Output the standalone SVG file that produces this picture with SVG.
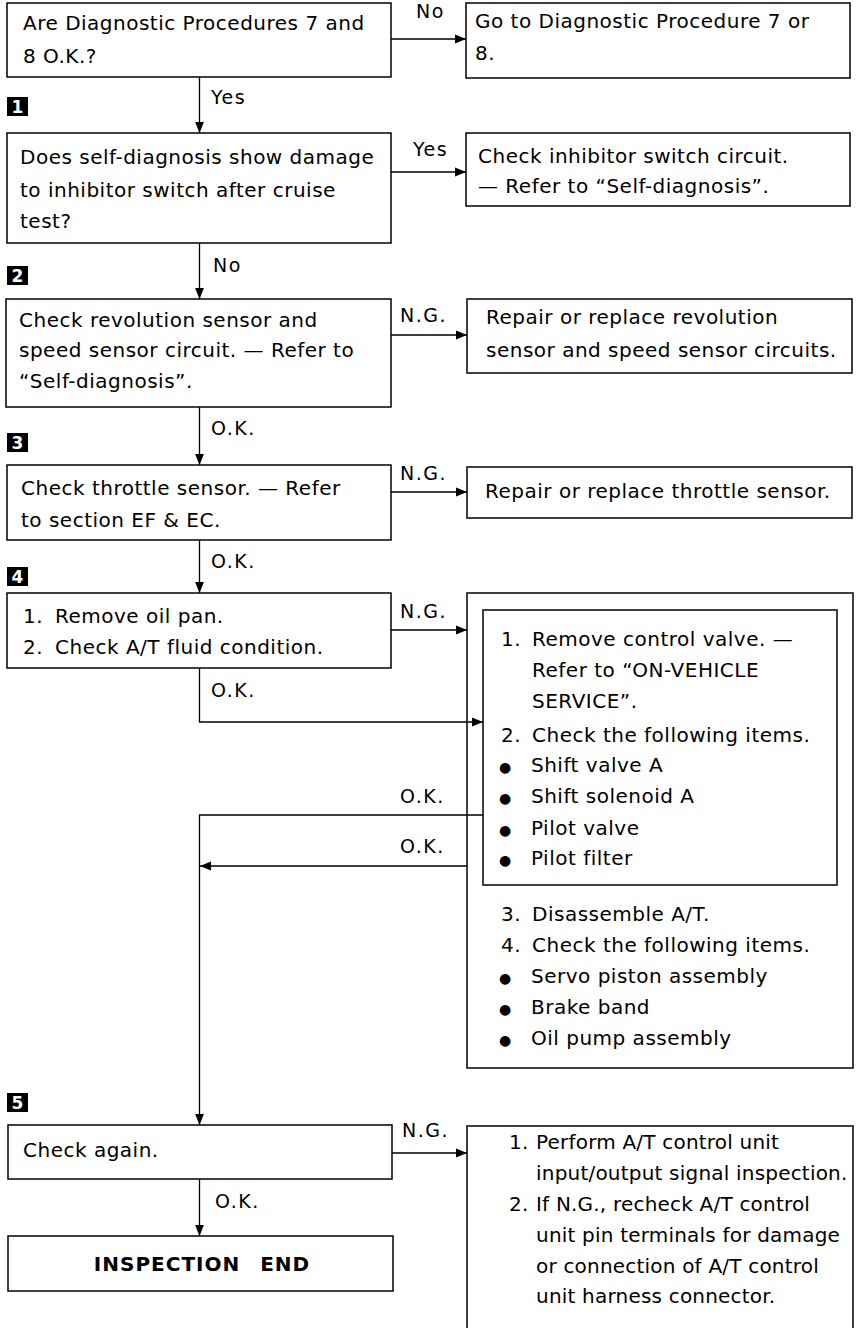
<svg xmlns="http://www.w3.org/2000/svg" width="858" height="1328" viewBox="0 0 858 1328">
<defs>
<marker id="ah" viewBox="0 0 10 10" refX="10" refY="5" markerWidth="11" markerHeight="11" markerUnits="userSpaceOnUse" orient="auto"><path d="M0,1 L10,5 L0,9 z" fill="#000"/></marker>
</defs>
<style>
.box{fill:#fff;stroke:#000;stroke-width:1.5}
.t{font-family:"DejaVu Sans",sans-serif;font-size:20px;letter-spacing:0.5px;fill:#000}
.tn{letter-spacing:0.2px}
.lbl{font-family:"DejaVu Sans",sans-serif;font-size:19px;letter-spacing:1.5px;fill:#000}
.conn{fill:none;stroke:#000;stroke-width:1.3}
.badge rect{fill:#000}
.badge text{font-family:"DejaVu Sans",sans-serif;font-weight:bold;font-size:17px;fill:#fff;text-anchor:middle}
.end{font-weight:bold;word-spacing:12px;text-anchor:middle;letter-spacing:1px}
.bul{font-size:14px}
</style>
<rect width="858" height="1328" fill="#fff"/>

<g id="badges">
<g class="badge" id="b1"><rect x="7" y="97" width="21" height="19"/><text x="17.5" y="112.5">1</text></g>
<g class="badge" id="b2"><rect x="7" y="266" width="21" height="19"/><text x="17.5" y="281.5">2</text></g>
<g class="badge" id="b3"><rect x="7" y="433" width="21" height="19"/><text x="17.5" y="448.5">3</text></g>
<g class="badge" id="b4"><rect x="7" y="567" width="21" height="19"/><text x="17.5" y="582.5">4</text></g>
<g class="badge" id="b5"><rect x="7" y="1093" width="21" height="19"/><text x="17.5" y="1108.5">5</text></g>
</g>

<g id="nodeA">
<rect class="box" x="7" y="3" width="384" height="74"/>
<text class="t" x="23" y="30">Are Diagnostic Procedures 7 and</text>
<text class="t" x="23" y="63">8 O.K.?</text>
</g>
<g id="nodeB">
<rect class="box" x="466" y="3" width="384" height="75"/>
<text class="t" x="475" y="28">Go to Diagnostic Procedure 7 or</text>
<text class="t" x="475" y="60">8.</text>
</g>
<g id="nodeC">
<rect class="box" x="7" y="133" width="384" height="110"/>
<text class="t" x="20" y="164">Does self-diagnosis show damage</text>
<text class="t" x="20" y="197">to inhibitor switch after cruise</text>
<text class="t" x="20" y="228">test?</text>
</g>
<g id="nodeD">
<rect class="box" x="466" y="133" width="384" height="73"/>
<text class="t" x="478" y="163">Check inhibitor switch circuit.</text>
<text class="t" x="478" y="193">— Refer to “Self-diagnosis”.</text>
</g>
<g id="nodeE">
<rect class="box" x="6" y="299" width="385" height="108"/>
<text class="t" x="19" y="327">Check revolution sensor and</text>
<text class="t" x="19" y="357">speed sensor circuit. — Refer to</text>
<text class="t" x="19" y="388">“Self-diagnosis”.</text>
</g>
<g id="nodeF">
<rect class="box" x="467" y="299" width="385" height="74"/>
<text class="t" x="486" y="324">Repair or replace revolution</text>
<text class="t" x="486" y="357">sensor and speed sensor circuits.</text>
</g>
<g id="nodeG">
<rect class="box" x="7" y="465" width="384" height="75"/>
<text class="t" x="21" y="495">Check throttle sensor. — Refer</text>
<text class="t" x="21" y="527">to section EF &amp; EC.</text>
</g>
<g id="nodeH">
<rect class="box" x="467" y="467" width="385" height="51"/>
<text class="t" x="485" y="498">Repair or replace throttle sensor.</text>
</g>
<g id="nodeI">
<rect class="box" x="7" y="593" width="384" height="75"/>
<text class="t" x="23" y="623">1.<tspan x="55">Remove oil pan.</tspan></text>
<text class="t" x="23" y="654">2.<tspan x="55">Check A/T fluid condition.</tspan></text>
</g>
<g id="nodeJ">
<rect class="box" x="467" y="593" width="386" height="475"/>
<g id="nodeK">
<rect class="box" x="483" y="610" width="354" height="275"/>
<text class="t" x="501" y="646">1.<tspan x="532">Remove control valve. —</tspan></text>
<text class="t" x="532" y="677">Refer to “ON-VEHICLE</text>
<text class="t" x="532" y="708">SERVICE”.</text>
<text class="t" x="501" y="742">2.<tspan x="532">Check the following items.</tspan></text>
<text class="t" x="499" y="772"><tspan class="bul">●</tspan><tspan x="531">Shift valve A</tspan></text>
<text class="t" x="499" y="803"><tspan class="bul">●</tspan><tspan x="531">Shift solenoid A</tspan></text>
<text class="t" x="499" y="835"><tspan class="bul">●</tspan><tspan x="531">Pilot valve</tspan></text>
<text class="t" x="499" y="865"><tspan class="bul">●</tspan><tspan x="531">Pilot filter</tspan></text>
</g>
<text class="t" x="501" y="921">3.<tspan x="532">Disassemble A/T.</tspan></text>
<text class="t" x="501" y="952">4.<tspan x="532">Check the following items.</tspan></text>
<text class="t" x="499" y="983"><tspan class="bul">●</tspan><tspan x="531">Servo piston assembly</tspan></text>
<text class="t" x="499" y="1014"><tspan class="bul">●</tspan><tspan x="531">Brake band</tspan></text>
<text class="t" x="499" y="1045"><tspan class="bul">●</tspan><tspan x="531">Oil pump assembly</tspan></text>
</g>
<g id="nodeL">
<rect class="box" x="8" y="1125" width="384" height="54"/>
<text class="t" x="23" y="1157">Check again.</text>
</g>
<g id="nodeM">
<rect class="box" x="8" y="1236" width="385" height="55"/>
<text class="t end" x="202" y="1271">INSPECTION END</text>
</g>
<g id="nodeN">
<rect class="box" x="467" y="1126" width="386" height="212"/>
<text class="t tn" x="509" y="1149">1.<tspan x="536">Perform A/T control unit</tspan></text>
<text class="t tn" x="536" y="1180">input/output signal inspection.</text>
<text class="t tn" x="509" y="1211">2.<tspan x="536">If N.G., recheck A/T control</tspan></text>
<text class="t tn" x="536" y="1242">unit pin terminals for damage</text>
<text class="t tn" x="536" y="1273">or connection of A/T control</text>
<text class="t tn" x="536" y="1303">unit harness connector.</text>
</g>

<g id="connectors">
<path class="conn" d="M199.5,77 V133" marker-end="url(#ah)"/>
<path class="conn" d="M391,39 H466" marker-end="url(#ah)"/>
<path class="conn" d="M199.5,243 V299" marker-end="url(#ah)"/>
<path class="conn" d="M391,172 H466" marker-end="url(#ah)"/>
<path class="conn" d="M199.5,407 V465" marker-end="url(#ah)"/>
<path class="conn" d="M391,335 H467" marker-end="url(#ah)"/>
<path class="conn" d="M199.5,540 V593" marker-end="url(#ah)"/>
<path class="conn" d="M391,492 H467" marker-end="url(#ah)"/>
<path class="conn" d="M391,630 H467" marker-end="url(#ah)"/>
<path class="conn" d="M199.5,668 V722 H483" marker-end="url(#ah)"/>
<path class="conn" d="M483,815 H199.5 V1125" marker-end="url(#ah)"/>
<path class="conn" d="M467,866 H200" marker-end="url(#ah)"/>
<path class="conn" d="M392,1153 H467" marker-end="url(#ah)"/>
<path class="conn" d="M199.5,1179 V1236" marker-end="url(#ah)"/>
<text class="lbl" x="211" y="104">Yes</text>
<text class="lbl" x="416" y="18">No</text>
<text class="lbl" x="213" y="272">No</text>
<text class="lbl" x="413" y="156">Yes</text>
<text class="lbl" x="211" y="435">O.K.</text>
<text class="lbl" x="400" y="322">N.G.</text>
<text class="lbl" x="211" y="568">O.K.</text>
<text class="lbl" x="400" y="480">N.G.</text>
<text class="lbl" x="400" y="618">N.G.</text>
<text class="lbl" x="211" y="697">O.K.</text>
<text class="lbl" x="400" y="803">O.K.</text>
<text class="lbl" x="400" y="853">O.K.</text>
<text class="lbl" x="402" y="1137">N.G.</text>
<text class="lbl" x="215" y="1208">O.K.</text>
</g>
</svg>
